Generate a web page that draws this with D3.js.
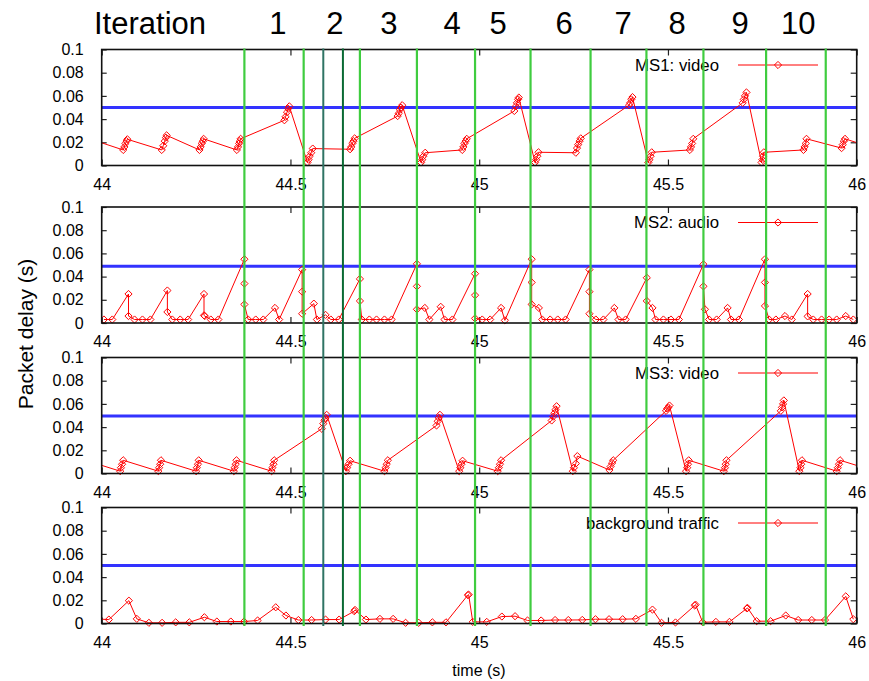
<!DOCTYPE html>
<html>
<head>
<meta charset="utf-8">
<script src="https://cdn.jsdelivr.net/npm/d3@7"></script>
<style>
  html, body { margin: 0; padding: 0; background: #fff; }
  svg { display: block; font-family: "Liberation Sans", Arial, sans-serif; }
</style>
</head>
<body>
<svg id="chart" width="869" height="681"></svg>
<script>
// ---------------- data ----------------
const panelNames = ["MS1: video", "MS2: audio", "MS3: video", "background traffic"];
const thresholds = [0.05, 0.049, 0.0495, 0.05];
const xTicks = [44, 44.5, 45, 45.5, 46];
const yTicks = [0, 0.02, 0.04, 0.06, 0.08, 0.1];
const iterationLabels = ["1","2","3","4","5","6","7","8","9","10"];
const iterationPos = [44.467, 44.618, 44.761, 44.928, 45.050, 45.225, 45.381, 45.524, 45.691, 45.845];
const markerTimes = [44.378, 44.535, 44.587, 44.639, 44.684, 44.835, 44.989, 45.136, 45.295, 45.443, 45.594, 45.760, 45.918];
const markerKinds = ["g","g","teal","dark","g","g","g","g","g","g","g","g","g"];

const ms1 = [
  [43.968,0.023],
  [44.057,0.0134],[44.060,0.016],[44.063,0.019],[44.066,0.021],[44.068,0.0226],
  [44.159,0.0134],[44.163,0.017],[44.167,0.021],[44.170,0.024],[44.172,0.026],
  [44.259,0.0134],[44.262,0.016],[44.265,0.019],[44.268,0.021],[44.270,0.023],
  [44.358,0.0134],[44.361,0.016],[44.364,0.019],[44.366,0.021],[44.368,0.023],
  [44.484,0.039],[44.487,0.042],[44.491,0.046],[44.494,0.049],[44.497,0.051],
  [44.545,0.0026],[44.548,0.005],[44.551,0.008],[44.555,0.011],[44.559,0.0146],
  [44.658,0.014],[44.661,0.016],[44.664,0.019],[44.667,0.021],[44.670,0.0234],
  [44.784,0.0426],[44.787,0.045],[44.790,0.048],[44.793,0.050],[44.796,0.052],
  [44.846,0.0026],[44.849,0.005],[44.852,0.008],[44.857,0.011],
  [44.955,0.0134],[44.958,0.016],[44.961,0.019],[44.964,0.021],[44.967,0.023],
  [45.093,0.047],[45.097,0.051],[45.100,0.054],[45.103,0.057],[45.105,0.0586],
  [45.148,0.0026],[45.151,0.005],[45.154,0.008],[45.157,0.0114],
  [45.256,0.011],[45.259,0.015],[45.262,0.018],[45.266,0.021],[45.269,0.0234],
  [45.397,0.052],[45.400,0.054],[45.403,0.057],[45.406,0.059],
  [45.448,0.0026],[45.451,0.005],[45.454,0.008],[45.457,0.0114],
  [45.558,0.0134],[45.561,0.016],[45.564,0.019],[45.567,0.023],
  [45.698,0.054],[45.701,0.057],[45.704,0.060],[45.708,0.063],
  [45.748,0.0026],[45.750,0.005],[45.752,0.008],[45.754,0.0114],
  [45.859,0.0134],[45.862,0.016],[45.865,0.019],[45.867,0.023],
  [45.960,0.015],[45.963,0.018],[45.966,0.021],[45.969,0.023],
  [46.06,0.0134]
];

const ms2 = [
  [44.006,0.003],[44.028,0.003],[44.071,0.025],[44.071,0.006],[44.087,0.003],[44.108,0.003],[44.129,0.003],
  [44.174,0.028],[44.174,0.0095],[44.187,0.003],[44.208,0.003],[44.229,0.003],
  [44.271,0.025],[44.271,0.0066],[44.273,0.006],[44.289,0.003],[44.309,0.003],
  [44.378,0.055],[44.378,0.034],[44.378,0.016],[44.388,0.003],[44.408,0.003],[44.428,0.003],
  [44.459,0.013],[44.470,0.003],
  [44.531,0.046],[44.531,0.027],[44.531,0.008],[44.562,0.0167],[44.570,0.003],[44.593,0.007],[44.607,0.003],[44.628,0.003],
  [44.684,0.038],[44.684,0.019],[44.689,0.003],[44.709,0.003],[44.728,0.003],[44.749,0.003],[44.768,0.003],
  [44.835,0.051],[44.835,0.0316],[44.835,0.0118],[44.856,0.013],[44.868,0.003],[44.898,0.014],[44.908,0.003],[44.929,0.003],
  [44.989,0.0425],[44.989,0.024],[44.989,0.004],[45.008,0.003],[45.029,0.003],[45.058,0.013],[45.068,0.0023],
  [45.139,0.055],[45.139,0.035],[45.139,0.016],[45.158,0.013],[45.167,0.003],[45.188,0.003],[45.208,0.003],[45.229,0.003],
  [45.292,0.046],[45.292,0.027],[45.292,0.008],[45.309,0.003],[45.329,0.003],[45.358,0.013],[45.369,0.003],[45.388,0.003],
  [45.444,0.039],[45.444,0.019],[45.459,0.013],[45.467,0.003],[45.488,0.003],[45.508,0.003],[45.529,0.003],
  [45.594,0.0506],[45.594,0.0316],[45.598,0.0118],[45.609,0.003],[45.629,0.003],[45.658,0.013],[45.667,0.003],[45.688,0.003],
  [45.757,0.055],[45.757,0.035],[45.757,0.0147],[45.768,0.003],[45.786,0.003],[45.810,0.006],[45.828,0.003],
  [45.870,0.025],[45.870,0.0057],[45.885,0.003],[45.907,0.003],[45.927,0.003],[45.947,0.003],[45.971,0.006],[45.991,0.003]
];

const ms3 = [
  [43.957,0.0114],
  [44.049,0.002],[44.051,0.005],[44.054,0.008],[44.057,0.0114],
  [44.150,0.002],[44.152,0.005],[44.155,0.008],[44.157,0.0114],
  [44.250,0.002],[44.252,0.005],[44.255,0.008],[44.257,0.0114],
  [44.350,0.002],[44.352,0.005],[44.355,0.008],[44.357,0.0114],
  [44.450,0.002],[44.452,0.005],[44.455,0.008],[44.457,0.0114],
  [44.583,0.0386],[44.587,0.043],[44.590,0.046],[44.593,0.048],[44.596,0.0506],
  [44.647,0.002],[44.650,0.005],[44.654,0.008],[44.658,0.011],
  [44.749,0.002],[44.752,0.005],[44.755,0.008],[44.758,0.0114],
  [44.887,0.0414],[44.890,0.045],[44.893,0.048],[44.896,0.0506],
  [44.947,0.002],[44.950,0.005],[44.953,0.008],[44.956,0.011],
  [45.049,0.002],[45.052,0.005],[45.055,0.008],[45.058,0.0114],
  [45.192,0.0457],[45.196,0.049],[45.199,0.052],[45.202,0.055],[45.205,0.058],
  [45.248,0.002],[45.251,0.005],[45.256,0.0086],[45.260,0.015],
  [45.345,0.003],[45.348,0.006],[45.352,0.009],[45.355,0.0114],
  [45.495,0.054],[45.498,0.056],[45.501,0.057],[45.504,0.0586],
  [45.548,0.002],[45.551,0.005],[45.553,0.008],[45.555,0.0114],
  [45.648,0.002],[45.651,0.005],[45.653,0.008],[45.655,0.0114],
  [45.799,0.054],[45.802,0.057],[45.805,0.060],[45.807,0.063],
  [45.848,0.002],[45.851,0.005],[45.853,0.008],[45.855,0.0114],
  [45.947,0.002],[45.950,0.005],[45.953,0.008],[45.956,0.0114],
  [46.049,0.002]
];

const background = [
  [43.98,0.004],
  [44.019,0.0034],[44.072,0.0197],[44.093,0.004],[44.125,0.0006],[44.160,0.0006],[44.196,0.001],[44.232,0.001],
  [44.272,0.0054],[44.305,0.0017],[44.342,0.0017],[44.377,0.0017],[44.413,0.0026],[44.461,0.014],[44.488,0.0069],
  [44.521,0.003],[44.556,0.003],[44.593,0.0034],[44.629,0.0034],[44.669,0.0106],[44.671,0.0117],[44.700,0.0034],
  [44.737,0.004],[44.772,0.004],[44.805,0.0006],[44.840,0.0006],[44.876,0.001],[44.912,0.001],[44.970,0.0245],
  [44.972,0.0249],[44.983,0.0014],[45.020,0.0014],[45.060,0.006],[45.095,0.0063],[45.128,0.0026],[45.164,0.0026],
  [45.201,0.003],[45.236,0.003],[45.273,0.0031],[45.308,0.0037],[45.344,0.0037],[45.380,0.0037],[45.415,0.004],
  [45.459,0.012],[45.483,0.0006],[45.520,0.0009],[45.571,0.0155],[45.573,0.0163],[45.592,0.0011],[45.627,0.0014],
  [45.663,0.0014],[45.709,0.013],[45.711,0.0134],[45.735,0.002],[45.772,0.002],[45.812,0.0069],[45.845,0.003],
  [45.881,0.003],[45.916,0.003],[45.971,0.0234],[45.991,0.0037]
];

const series = [ms1, ms2, ms3, background];

// ---------------- layout ----------------
const svg = d3.select("#chart");
const left = 101.7, right = 856.7;
const panelTops = [49.5, 207, 357.5, 507.5];
const panelH = 116;
const x = d3.scaleLinear().domain([44, 46]).range([left, right]);
const lineColors = { g: "#3fcc3f", teal: "#2f7464", dark: "#0a6a34" };
const red = "#ff0000";
const diamond = "M0,-3.6L3.6,0L0,3.6L-3.6,0Z";

series.forEach((data, i) => {
  const top = panelTops[i], bottom = top + panelH;
  const y = d3.scaleLinear().domain([0, 0.1]).range([bottom, top]);
  const g = svg.append("g");

  const clipId = "clip" + i;
  svg.append("clipPath").attr("id", clipId)
    .append("rect").attr("x", left).attr("y", top - 5).attr("width", right - left).attr("height", panelH + 10);

  // axes
  const yl = g.append("g").attr("transform", `translate(${left},0)`)
    .call(d3.axisLeft(y).tickValues(yTicks).tickSize(-5).tickPadding(18).tickFormat(d3.format("~g")));
  const yr = g.append("g").attr("transform", `translate(${right},0)`)
    .call(d3.axisRight(y).tickValues(yTicks).tickSize(-6).tickFormat(""));
  const xb = g.append("g").attr("transform", `translate(0,${bottom})`)
    .call(d3.axisBottom(x).tickValues(xTicks).tickSize(-6).tickPadding(13).tickFormat(d3.format("~g")));
  const xt = g.append("g").attr("transform", `translate(0,${top})`)
    .call(d3.axisTop(x).tickValues(xTicks).tickSize(-6).tickFormat(""));
  [yl, yr, xb, xt].forEach(a => {
    a.select(".domain").remove();
    a.selectAll(".tick line").attr("stroke", "#222").attr("stroke-width", 1.2);
    a.selectAll("text").attr("font-size", 16).attr("fill", "#000")
      .attr("font-family", "'Liberation Sans', Arial, sans-serif");
  });

  // threshold line
  g.append("line")
    .attr("x1", left).attr("x2", right)
    .attr("y1", y(thresholds[i])).attr("y2", y(thresholds[i]))
    .attr("stroke", "#3333ff").attr("stroke-width", 3);

  // data
  const dg = g.append("g").attr("clip-path", `url(#${clipId})`);
  const line = d3.line().x(d => x(d[0])).y(d => y(d[1]));
  dg.append("path").datum(data).attr("d", line)
    .attr("fill", "none").attr("stroke", red).attr("stroke-width", 1);
  dg.selectAll("path.pt").data(data).join("path").attr("class", "pt")
    .attr("d", diamond)
    .attr("transform", d => `translate(${x(d[0])},${y(d[1])})`)
    .attr("fill", "none").attr("stroke", red).attr("stroke-width", 1);

  // frame
  g.append("rect").attr("x", left).attr("y", top).attr("width", right - left).attr("height", panelH)
    .attr("fill", "none").attr("stroke", "#111").attr("stroke-width", 1.6);

  // legend
  const ly = top + 15.5;
  const lg = g.append("g");
  lg.append("text").attr("x", 719).attr("y", ly).attr("dy", "0.35em")
    .attr("text-anchor", "end").attr("font-size", 16.8).text(panelNames[i]);
  lg.append("line").attr("x1", 738).attr("x2", 818).attr("y1", ly).attr("y2", ly)
    .attr("stroke", red).attr("stroke-width", 1);
  lg.append("path").attr("d", diamond).attr("transform", `translate(778,${ly})`)
    .attr("fill", "none").attr("stroke", red);
});

// vertical iteration boundary lines
svg.append("g").selectAll("line").data(markerTimes).join("line")
  .attr("x1", d => x(d)).attr("x2", d => x(d))
  .attr("y1", 48.5).attr("y2", 626)
  .attr("stroke", (d, i) => lineColors[markerKinds[i]])
  .attr("stroke-width", (d, i) => markerKinds[i] === "g" ? 2.2 : 2);

// iteration header
svg.append("text").attr("x", 150).attr("y", 34).attr("text-anchor", "middle")
  .attr("font-size", 31).text("Iteration");
svg.append("g").selectAll("text").data(iterationLabels).join("text")
  .attr("x", (d, i) => x(iterationPos[i])).attr("y", 34)
  .attr("text-anchor", "middle").attr("font-size", 31).text(d => d);

// axis titles
svg.append("text").attr("transform", "translate(33,334) rotate(-90)")
  .attr("text-anchor", "middle").attr("font-size", 21).text("Packet delay (s)");
svg.append("text").attr("x", 479).attr("y", 676)
  .attr("text-anchor", "middle").attr("font-size", 16).text("time (s)");
</script>
</body>
</html>
